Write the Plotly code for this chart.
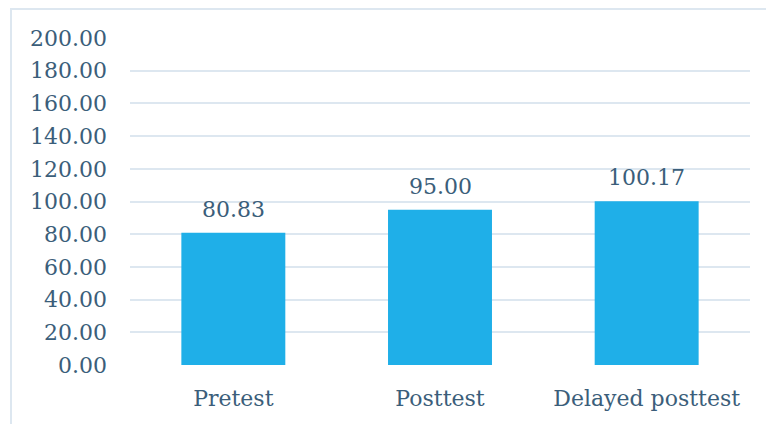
import plotly.graph_objects as go

categories = ["Pretest", "Posttest", "Delayed posttest"]
values = [80.83, 95.00, 100.17]
y_ticks = [0, 20, 40, 60, 80, 100, 120, 140, 160, 180, 200]
y_tick_labels = [f"{v:.2f}" for v in y_ticks]

text_color = "#3b5e7a"
grid_color = "#dde7f0"
bar_color = "#1fafe8"
font_family = "DejaVu Serif"
fsize = 22

fig = go.Figure()
fig.add_trace(go.Bar(
    x=categories,
    y=values,
    marker=dict(color=bar_color, line=dict(width=0)),
    hoverinfo="skip",
))

for c, v in zip(categories, values):
    fig.add_annotation(
        x=c, y=v, text=f"{v:.2f}", showarrow=False,
        yanchor="bottom", yshift=9,
        font=dict(family=font_family, size=fsize, color=text_color),
    )

W, H = 766, 424
ml, mr, mt, mb = 130, 16, 38, 59
pw = W - ml - mr
ph = H - mt - mb

fig.update_layout(
    width=W, height=H,
    margin=dict(l=ml, r=mr, t=mt, b=mb, pad=0),
    paper_bgcolor="white", plot_bgcolor="white",
    bargap=0.497,
    showlegend=False,
    font=dict(family=font_family, size=fsize, color=text_color),
    xaxis=dict(
        showgrid=False, zeroline=False, showline=False,
        ticks="", ticklabelstandoff=18,
        tickfont=dict(family=font_family, size=fsize, color=text_color),
    ),
    yaxis=dict(
        range=[0, 200], tickvals=y_ticks, ticktext=y_tick_labels,
        showgrid=True, gridcolor=grid_color, gridwidth=2,
        zeroline=False, showline=False, ticks="",
        ticklabelstandoff=22,
        tickfont=dict(family=font_family, size=fsize, color=text_color),
    ),
    shapes=[dict(
        type="rect", xref="paper", yref="paper",
        x0=(11 - ml) / pw, x1=(W + 5 - ml) / pw,
        y0=-(H + 5 - mt - ph) / ph, y1=(ph + mt - 9) / ph,
        line=dict(color=grid_color, width=2), fillcolor="rgba(0,0,0,0)",
        layer="below",
    )],
)

fig.write_html("out.html")
